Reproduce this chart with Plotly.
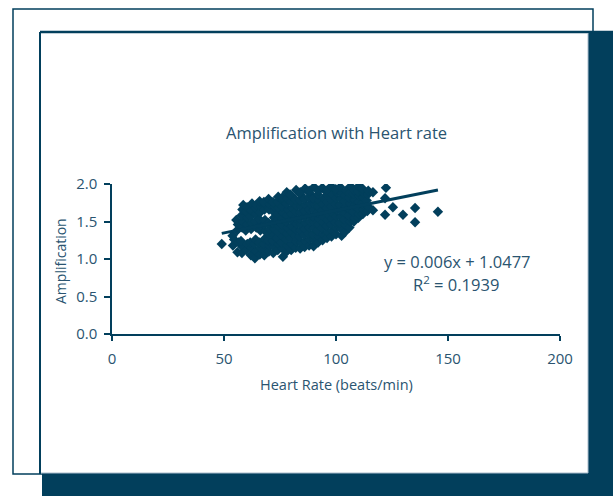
import plotly.graph_objects as go

# Heart rate (beats/min) and pulse amplification for each recording
heart_rate = [
    49,
    54, 54.5, 53.8,
    56, 56.5, 55.8, 56.2, 55.5,
    58, 58.3, 57.6, 58.1, 58.4, 57.8, 58.2, 58.6,
    60, 60.4, 59.7, 60.2, 60.5, 59.9, 60.3,
    62, 62.3, 61.7, 62.1, 62.4, 61.8, 62.2, 62.5,
    63.8, 64.2, 63.6, 64.1, 64.4, 63.9, 64.3, 64.0, 64.5,
    66, 66.3, 65.7, 66.2, 66.4, 65.8, 66.1, 66.5, 65.9,
    68, 68.4, 67.7, 68.2, 68.5, 67.9, 68.3, 68.1, 68.6, 67.8,
    70, 70.3, 69.7, 70.2, 70.5, 69.8, 70.1, 70.4, 69.9,
    72, 72.4, 71.7, 72.2, 72.5, 71.8, 72.3, 72.1, 72.6, 71.9,
    74, 74.3, 73.7, 74.2, 74.4, 73.8, 74.1, 74.5, 73.9, 74.2,
    76.3, 76.1, 75.7, 76.2, 76.4, 75.8, 76.0, 76.5, 75.9, 76.3, 76.1,
    78, 78.3, 77.7, 78.2, 78.4, 77.8, 78.1, 78.5, 77.9, 78.2, 78.0,
    80, 80.3, 79.7, 80.2, 80.4, 79.8, 80.1, 80.5, 79.9, 80.2, 79.5,
    82, 82.3, 81.7, 82.2, 82.4, 81.8, 82.1, 82.5, 81.9, 82.2,
    84, 84.3, 83.7, 84.2, 84.4, 83.8, 84.1, 84.5, 83.9, 84.2, 84.0,
    86, 86.3, 85.7, 86.2, 86.4, 85.8, 86.1, 86.5, 85.9, 86.2,
    88, 88.3, 87.7, 88.2, 88.4, 87.8, 88.1, 88.5, 87.9, 88.2, 88.0,
    90, 90.3, 89.7, 90.2, 90.4, 89.8, 90.1, 90.5, 89.9, 90.2,
    92, 92.3, 91.7, 92.2, 92.4, 91.8, 92.1, 92.5, 91.9, 92.2,
    94, 94.3, 93.7, 94.2, 94.4, 93.8, 94.1, 94.5, 93.9,
    96, 96.3, 95.7, 96.2, 96.4, 95.8, 96.1, 96.5, 95.9, 96.2,
    98, 98.3, 97.7, 98.2, 98.4, 97.8, 98.1, 98.5, 97.9,
    100, 100.3, 99.7, 100.2, 100.4, 99.8, 100.1, 100.5, 99.9,
    102.5, 102.3, 101.7, 102.2, 102.4, 101.8, 102.1, 102.5, 101.9,
    104, 104.3, 103.7, 104.2, 104.4, 103.8, 104.1, 104.5,
    106, 106.3, 105.7, 106.2, 106.4, 105.8, 106.1, 106.5,
    108, 108.3, 107.7, 108.2, 108.4, 107.8, 108.1,
    110, 110.3, 109.7, 110.2, 110.4, 109.8, 110.1,
    112, 112.3, 111.7, 112.2, 112.4, 111.8,
    114, 114.3, 113.7, 114.2, 114.4,
    116.5, 122.3, 121.9, 116.5, 121.9, 125.4, 129.9, 135.3, 135.3, 145.5,
]

amplification = [
    1.20,
    1.18, 1.26, 1.31,
    1.09, 1.22, 1.38, 1.46, 1.52,
    1.08, 1.16, 1.24, 1.42, 1.50, 1.58, 1.66, 1.72,
    1.12, 1.20, 1.38, 1.46, 1.55, 1.63, 1.69,
    1.05, 1.15, 1.22, 1.40, 1.48, 1.57, 1.65, 1.74,
    1.01, 1.10, 1.20, 1.26, 1.42, 1.50, 1.60, 1.68, 1.72,
    1.06, 1.15, 1.22, 1.38, 1.45, 1.53, 1.62, 1.70, 1.77,
    1.05, 1.12, 1.20, 1.27, 1.37, 1.46, 1.52, 1.66, 1.72, 1.76,
    1.10, 1.18, 1.25, 1.33, 1.40, 1.48, 1.66, 1.73, 1.80,
    1.08, 1.16, 1.24, 1.32, 1.40, 1.48, 1.55, 1.63, 1.70, 1.76,
    1.12, 1.20, 1.28, 1.36, 1.44, 1.52, 1.60, 1.68, 1.76, 1.83,
    1.03, 1.14, 1.22, 1.30, 1.38, 1.46, 1.54, 1.62, 1.70, 1.78, 1.82,
    1.10, 1.18, 1.26, 1.34, 1.42, 1.50, 1.58, 1.66, 1.74, 1.81, 1.89,
    1.12, 1.20, 1.28, 1.36, 1.44, 1.52, 1.60, 1.68, 1.76, 1.84, 1.86,
    1.15, 1.23, 1.31, 1.39, 1.47, 1.55, 1.63, 1.71, 1.79, 1.92,
    1.14, 1.22, 1.30, 1.38, 1.46, 1.54, 1.62, 1.70, 1.78, 1.86, 1.89,
    1.16, 1.24, 1.32, 1.40, 1.48, 1.56, 1.64, 1.72, 1.80, 1.94,
    1.18, 1.26, 1.34, 1.42, 1.50, 1.58, 1.66, 1.74, 1.82, 1.88, 1.91,
    1.17, 1.25, 1.33, 1.41, 1.49, 1.57, 1.65, 1.73, 1.81, 1.96,
    1.22, 1.30, 1.38, 1.46, 1.54, 1.62, 1.70, 1.78, 1.86, 1.91,
    1.25, 1.33, 1.41, 1.49, 1.57, 1.65, 1.73, 1.81, 1.95,
    1.28, 1.36, 1.44, 1.52, 1.60, 1.68, 1.76, 1.84, 1.89, 1.92,
    1.30, 1.38, 1.46, 1.54, 1.62, 1.70, 1.78, 1.86, 1.97,
    1.33, 1.41, 1.49, 1.57, 1.65, 1.73, 1.81, 1.89, 1.93,
    1.31, 1.40, 1.48, 1.56, 1.64, 1.72, 1.80, 1.88, 1.96,
    1.36, 1.45, 1.53, 1.61, 1.69, 1.77, 1.85, 1.91,
    1.42, 1.50, 1.58, 1.66, 1.74, 1.82, 1.88, 1.97,
    1.50, 1.55, 1.63, 1.71, 1.79, 1.87, 1.92,
    1.55, 1.60, 1.68, 1.76, 1.84, 1.90, 1.97,
    1.60, 1.66, 1.74, 1.82, 1.88, 1.94,
    1.64, 1.70, 1.78, 1.86, 1.91,
    1.89, 1.95, 1.81, 1.65, 1.59, 1.69, 1.59, 1.68, 1.49, 1.63,
]

# Linear fit reported on the chart
slope = 0.006
intercept = 1.0477
r_squared = 0.1939
fit_x = [min(heart_rate), max(heart_rate)]
fit_y = [slope * x + intercept for x in fit_x]

x_ticks = [0, 50, 100, 150, 200]
y_ticks = [0.0, 0.5, 1.0, 1.5, 2.0]

DARK = "#023f5c"
TEXT = "#2a5470"
FONT = "Open Sans"

W, H = 613, 496
L, R, T, B = 112, 53, 184, 162
PW, PH = W - L - R, H - T - B


def px(x):
    return (x - L) / PW


def py(y):
    return (H - B - y) / PH


fig = go.Figure()

fig.add_trace(go.Scatter(
    x=heart_rate, y=amplification, mode="markers",
    marker=dict(symbol="diamond", size=8, color=DARK, line=dict(width=0)),
    showlegend=False, hoverinfo="x+y",
))

fig.add_trace(go.Scatter(
    x=fit_x, y=fit_y, mode="lines",
    line=dict(color=DARK, width=3),
    showlegend=False, hoverinfo="skip",
))

shapes = [
    # outer thin frame
    dict(type="rect", xref="paper", yref="paper",
         x0=px(13), x1=px(593), y0=py(474), y1=py(9),
         line=dict(color=DARK, width=1.5), fillcolor="rgba(0,0,0,0)", layer="below"),
    # drop shadow
    dict(type="rect", xref="paper", yref="paper",
         x0=px(42), x1=px(613), y0=py(496), y1=py(32),
         line=dict(width=0), fillcolor=DARK, layer="below"),
    # white panel
    dict(type="rect", xref="paper", yref="paper",
         x0=px(40), x1=px(588), y0=py(473), y1=py(32),
         line=dict(width=0), fillcolor="white", layer="below"),
    dict(type="line", xref="paper", yref="paper",
         x0=px(40), x1=px(40), y0=py(474), y1=py(32),
         line=dict(color=DARK, width=2), layer="below"),
    dict(type="line", xref="paper", yref="paper",
         x0=px(40), x1=px(613), y0=py(32), y1=py(32),
         line=dict(color=DARK, width=2.5), layer="below"),
    dict(type="line", xref="paper", yref="paper",
         x0=px(588), x1=px(588), y0=py(473), y1=py(33),
         line=dict(color="#a9bccb", width=1), layer="below"),
    dict(type="line", xref="paper", yref="paper",
         x0=px(41), x1=px(588), y0=py(473), y1=py(473),
         line=dict(color="#a9bccb", width=1), layer="below"),
]


def label(text, x, y, size, angle=0):
    return dict(text=text, x=px(x), y=py(y), xref="paper", yref="paper",
                xanchor="center", yanchor="middle", showarrow=False,
                textangle=angle, font=dict(family=FONT, size=size, color=TEXT))


annotations = [
    label("Amplification with Heart rate", 336, 132, 16.5),
    label("Heart Rate (beats/min)", 336, 384, 14.5),
    label("Amplification", 60, 261, 14, angle=-90),
    label(f"y = {slope}x + {intercept}", 457, 261, 16.5),
    label(f"R<sup>2</sup> = {r_squared}", 456, 284, 16.5),
]

fig.update_layout(
    width=W, height=H,
    margin=dict(l=L, r=R, t=T, b=B, pad=0),
    paper_bgcolor="white", plot_bgcolor="rgba(0,0,0,0)",
    shapes=shapes, annotations=annotations,
    font=dict(family=FONT, color=TEXT),
    xaxis=dict(
        range=[0, 200], tickvals=x_ticks, ticktext=[str(v) for v in x_ticks],
        showline=True, linecolor=DARK, linewidth=1.5,
        ticks="outside", ticklen=5, tickwidth=1.5, tickcolor=DARK,
        showgrid=False, zeroline=False,
        tickfont=dict(family=FONT, size=15, color=TEXT),
        ticklabelstandoff=5,
    ),
    yaxis=dict(
        range=[0, 2], tickvals=y_ticks, ticktext=[f"{v:.1f}" for v in y_ticks],
        showline=True, linecolor=DARK, linewidth=1.5,
        ticks="outside", ticklen=6, tickwidth=1.5, tickcolor=DARK,
        showgrid=False, zeroline=False,
        tickfont=dict(family=FONT, size=15, color=TEXT),
        ticklabelstandoff=4,
    ),
)

fig.write_html("out.html")
